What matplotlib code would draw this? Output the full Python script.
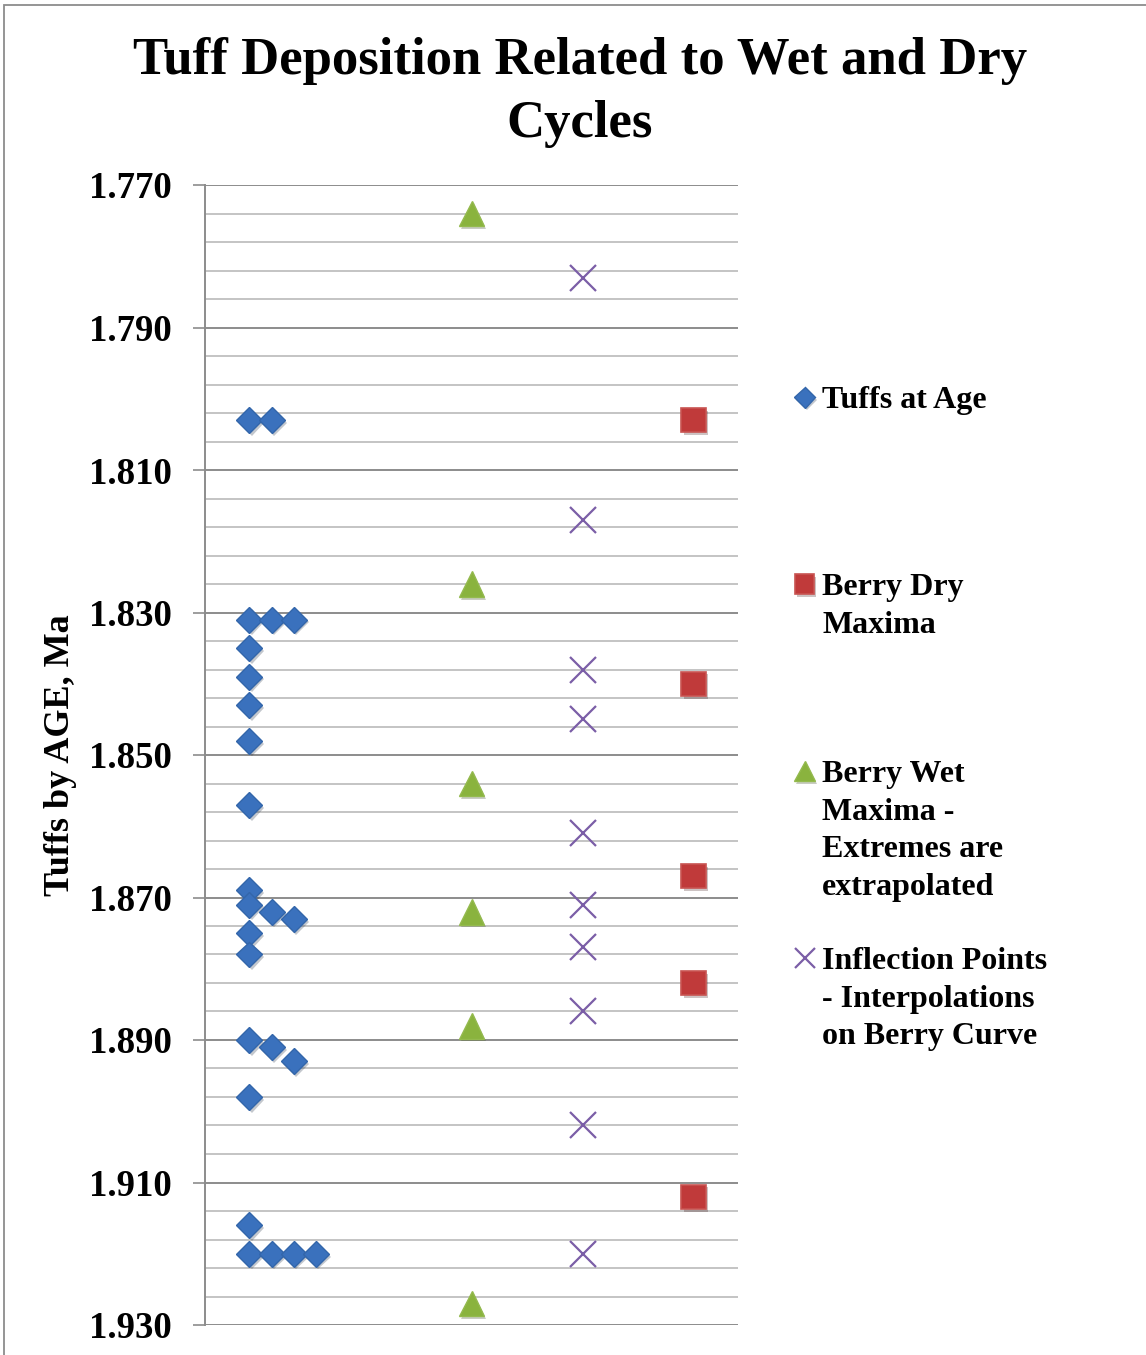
import numpy as np
import matplotlib.pyplot as plt
from matplotlib.ticker import FormatStrFormatter
from matplotlib.patches import Rectangle
import matplotlib.patheffects as pe

# tuff ages (Ma) and their stacking position across the chart
tuff_x = [2, 3, 2, 3, 4, 2, 2, 2, 2, 2, 2, 2, 3, 4, 2, 2, 2, 3, 4, 2, 2, 2, 3, 4, 5]
tuff_age = [1.803, 1.803, 1.831, 1.831, 1.831, 1.835, 1.839, 1.843, 1.848, 1.857,
            1.869, 1.871, 1.872, 1.873, 1.875, 1.878, 1.890, 1.891, 1.893, 1.898,
            1.916, 1.920, 1.920, 1.920, 1.920]

dry_x = 22
dry_age = [1.803, 1.840, 1.867, 1.882, 1.912]

wet_x = 12
wet_age = [1.774, 1.826, 1.854, 1.872, 1.888, 1.927]

infl_x = 17
infl_age = [1.783, 1.817, 1.838, 1.845, 1.861, 1.871, 1.877, 1.886, 1.902, 1.920]

labels = ['Tuffs at Age', 'Berry Dry\nMaxima',
          'Berry Wet\nMaxima -\nExtremes are\nextrapolated',
          'Inflection Points\n- Interpolations\non Berry Curve']

serif = 'Liberation Serif'
W, H = 1146, 1355
fig = plt.figure(figsize=(W / 100, H / 100), dpi=100)
ax = fig.add_axes([205 / W, 1 - 1325 / H, 533 / W, 1140 / H])

shadow = [pe.SimplePatchShadow(offset=(1.5, -2), alpha=0.25), pe.Normal()]

h1, = ax.plot(tuff_x, tuff_age, ls='none', marker='D', ms=13.2, mfc='#3A71BD',
              mec='#3366AA', mew=1, zorder=3, path_effects=shadow)
h2, = ax.plot([dry_x] * len(dry_age), dry_age, ls='none', marker='s', ms=17.5,
              mfc='#C03A3A', mec='#C85452', mew=1.2, zorder=3, path_effects=shadow)
h3, = ax.plot([wet_x] * len(wet_age), wet_age, ls='none', marker='^', ms=18.5,
              mfc='#8AB33E', mec='#94BA4E', mew=1, zorder=3, path_effects=shadow)
h4, = ax.plot([infl_x] * len(infl_age), infl_age, ls='none', marker='x', ms=18.5,
              mec='#7B5EA7', mew=1.6, zorder=3)

ax.set_xlim(0, 24)
ax.set_ylim(1.930, 1.770)
ax.set_yticks(np.round(np.arange(1.770, 1.9301, 0.020), 3))
ax.set_yticks(np.round(np.arange(1.770, 1.9301, 0.004), 3), minor=True)
ax.yaxis.set_major_formatter(FormatStrFormatter('%.3f'))
ax.grid(which='minor', axis='y', color='#c4c4c4', lw=1.4, zorder=0)
ax.grid(which='major', axis='y', color='#8c8c8c', lw=1.4, zorder=1)
ax.set_axisbelow(True)
ax.tick_params(axis='y', which='major', length=8.6, width=1.2, color='#8c8c8c', pad=15)
ax.tick_params(axis='y', which='minor', length=0)
ax.tick_params(axis='x', bottom=False, labelbottom=False)
for lab in ax.get_yticklabels():
    lab.set_fontfamily(serif)
    lab.set_fontweight('bold')
    lab.set_fontsize(26.5)
for s in ['top', 'right', 'bottom']:
    ax.spines[s].set_visible(False)
ax.spines['left'].set_color('#8c8c8c')
ax.spines['left'].set_linewidth(1.4)

ax.set_ylabel('Tuffs by AGE, Ma', fontfamily=serif, fontweight='bold', fontsize=26, va='center')
ax.yaxis.set_label_coords(-0.272, 0.5)

fig.text(0.506, 1 - 37 / H, 'Tuff Deposition Related to Wet and Dry\nCycles',
         ha='center', va='top', fontfamily=serif, fontweight='bold', fontsize=38,
         linespacing=1.41)

# pad labels so every legend entry takes the same slot height
padded = [t + '\n' * (4 - t.count('\n')) for t in labels]
leg = fig.legend([h1, h2, h3, h4], padded, loc='upper left',
                 bbox_to_anchor=(779 / W, 1 - 370 / H), bbox_transform=fig.transFigure,
                 frameon=False, borderpad=0, handlelength=0.6, handletextpad=0.25,
                 labelspacing=0.24, markerscale=0.8,
                 prop={'family': serif, 'weight': 'bold', 'size': 23})
for t in leg.get_texts():
    t.set_linespacing(1.39)
for col in leg._legend_handle_box.get_children():
    for row in col.get_children():
        row.align = 'top'

fig.patches.append(Rectangle((4 / W, -0.05), 1.2, 1.05 - 5 / H, transform=fig.transFigure,
                             fill=False, edgecolor='#8c8c8c', lw=1.3, clip_on=False))

fig.savefig('out.png', dpi=100)
